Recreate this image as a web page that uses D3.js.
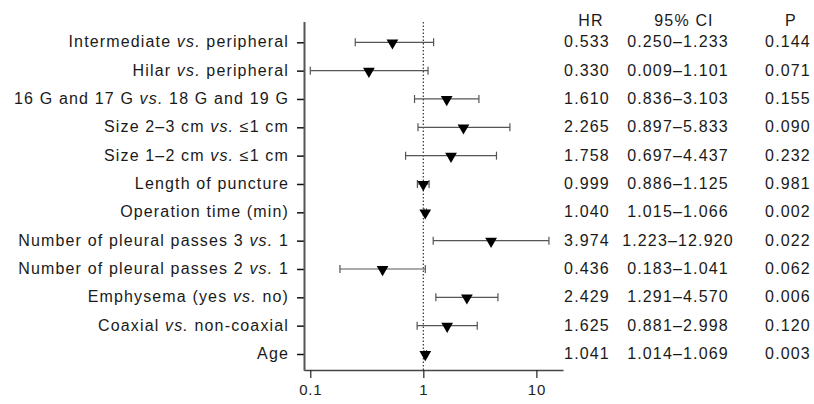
<!DOCTYPE html>
<html>
<head>
<meta charset="utf-8">
<script src="https://cdn.jsdelivr.net/npm/d3@7"></script>
<style>
  body { margin: 0; background: #fff; }
  svg { font-family: "Liberation Sans", Arial, Helvetica, sans-serif; }
</style>
</head>
<body>
<svg id="chart" width="814" height="404"></svg>
<script>
// rows, top to bottom; "vs." parts get set in italics
const labels = [
  "Intermediate vs. peripheral",
  "Hilar vs. peripheral",
  "16 G and 17 G vs. 18 G and 19 G",
  "Size 2–3 cm vs. ≤1 cm",
  "Size 1–2 cm vs. ≤1 cm",
  "Length of puncture",
  "Operation time (min)",
  "Number of pleural passes 3 vs. 1",
  "Number of pleural passes 2 vs. 1",
  "Emphysema (yes vs. no)",
  "Coaxial vs. non-coaxial",
  "Age"
];
const hr = [0.533, 0.330, 1.610, 2.265, 1.758, 0.999, 1.040, 3.974, 0.436, 2.429, 1.625, 1.041];
const ciLow = [0.250, 0.009, 0.836, 0.897, 0.697, 0.886, 1.015, 1.223, 0.183, 1.291, 0.881, 1.014];
const ciHigh = [1.233, 1.101, 3.103, 5.833, 4.437, 1.125, 1.066, 12.920, 1.041, 4.570, 2.998, 1.069];
const pValues = ["0.144", "0.071", "0.155", "0.090", "0.232", "0.981", "0.002", "0.022", "0.062", "0.006", "0.120", "0.003"];
const xTicks = [0.1, 1, 10];
const headers = ["HR", "95% CI", "P"];

const svg = d3.select("#chart");
const fontSize = 16;
const spacing = 1.15; // source font runs wider than Arial

const x = d3.scaleLog().domain([0.088, 17.2]).range([304, 563]);
const y = d3.scalePoint().domain(labels).range([42.3, 354]);
const plotTop = 22, plotBottom = 370;
const clampX = v => x(Math.max(v, 0.1));

// reference line at HR = 1
svg.append("line")
  .attr("x1", x(1)).attr("x2", x(1))
  .attr("y1", plotTop).attr("y2", plotBottom)
  .attr("stroke", "#333").attr("stroke-width", 1.2)
  .attr("stroke-dasharray", "1.5,2");

// x axis
const xAxis = svg.append("g")
  .attr("transform", `translate(0,${plotBottom})`)
  .call(d3.axisBottom(x).tickValues(xTicks).tickFormat(d => String(d)).tickSize(8).tickSizeOuter(0).tickPadding(6));
xAxis.select(".domain").attr("stroke", "#444").attr("stroke-width", 1.6);
xAxis.selectAll(".tick line").attr("stroke", "#222").attr("stroke-width", 1.2);
xAxis.selectAll(".tick text")
  .attr("font-size", 15).attr("fill", "#222")
  .attr("letter-spacing", 0.8)
  .attr("font-family", "'Liberation Sans', Arial, sans-serif");

// y axis
const yAxis = svg.append("g")
  .attr("transform", "translate(304,0)")
  .call(d3.axisLeft(y).tickSize(7).tickSizeOuter(0).tickFormat(""));
yAxis.select(".domain").remove();
yAxis.selectAll(".tick line").attr("stroke", "#111").attr("stroke-width", 1.5);
svg.append("line")
  .attr("x1", 304.5).attr("x2", 304.5)
  .attr("y1", plotTop).attr("y2", plotBottom + 0.8)
  .attr("stroke", "#555").attr("stroke-width", 2);

// row labels with italic "vs."
const lab = svg.append("g").selectAll("text")
  .data(labels)
  .join("text")
  .attr("x", 289)
  .attr("y", d => y(d) + 5)
  .attr("text-anchor", "end")
  .attr("font-size", fontSize)
  .attr("letter-spacing", spacing)
  .attr("fill", "#1a1a1a");
lab.each(function(d) {
  const parts = d.split("vs.");
  const t = d3.select(this);
  parts.forEach((p, i) => {
    t.append("tspan").text(p);
    if (i < parts.length - 1) t.append("tspan").attr("font-style", "italic").text("vs.");
  });
});

// confidence intervals
const rows = labels.map((l, i) => ({ label: l, hr: hr[i], lo: ciLow[i], hi: ciHigh[i], p: pValues[i] }));
const ci = svg.append("g").attr("stroke", "#555").attr("stroke-width", 1.2);
ci.selectAll("line.bar").data(rows).join("line")
  .attr("class", "bar")
  .attr("x1", d => clampX(d.lo)).attr("x2", d => x(d.hi))
  .attr("y1", d => y(d.label)).attr("y2", d => y(d.label));
ci.selectAll("line.capl").data(rows).join("line")
  .attr("class", "capl")
  .attr("x1", d => clampX(d.lo)).attr("x2", d => clampX(d.lo))
  .attr("y1", d => y(d.label) - 4).attr("y2", d => y(d.label) + 4);
ci.selectAll("line.caph").data(rows).join("line")
  .attr("class", "caph")
  .attr("x1", d => x(d.hi)).attr("x2", d => x(d.hi))
  .attr("y1", d => y(d.label) - 4).attr("y2", d => y(d.label) + 4);

// HR markers: downward triangles
const tri = d3.symbol().type(d3.symbolTriangle).size(60);
svg.append("g").selectAll("path").data(rows).join("path")
  .attr("d", tri)
  .attr("transform", d => `translate(${x(d.hr)},${y(d.label) + 0.5}) rotate(180)`)
  .attr("fill", "#000");

// table
const colX = [587, 678, 788];
svg.append("g").selectAll("text").data(headers).join("text")
  .attr("x", (d, i) => colX[i] + [4, 6, 3][i])
  .attr("y", 26)
  .attr("text-anchor", "middle")
  .attr("font-size", fontSize)
  .attr("letter-spacing", spacing)
  .attr("fill", "#1a1a1a")
  .text(d => d);

const fmt = d3.format(".3f");
const table = svg.append("g")
  .attr("font-size", fontSize).attr("letter-spacing", spacing)
  .attr("fill", "#1a1a1a").attr("text-anchor", "middle");
table.selectAll("text.hr").data(rows).join("text").attr("class", "hr")
  .attr("x", colX[0]).attr("y", d => y(d.label) + 5).text(d => fmt(d.hr));
table.selectAll("text.ci").data(rows).join("text").attr("class", "ci")
  .attr("x", colX[1]).attr("y", d => y(d.label) + 5).text(d => `${fmt(d.lo)}–${fmt(d.hi)}`);
table.selectAll("text.p").data(rows).join("text").attr("class", "p")
  .attr("x", colX[2]).attr("y", d => y(d.label) + 5).text(d => d.p);
</script>
</body>
</html>
